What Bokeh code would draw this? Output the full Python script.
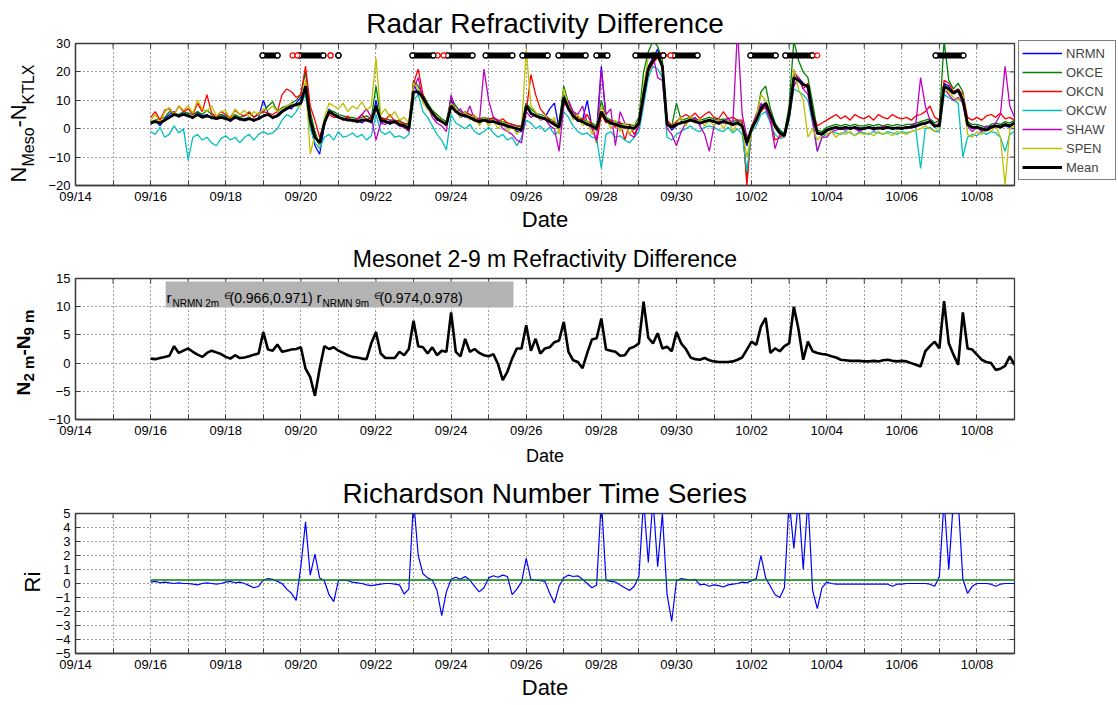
import numpy as np
from bokeh.plotting import figure
from bokeh.layouts import column, row
from bokeh.models import (Range1d, FixedTicker, Label, Legend, LegendItem,
                          BoxAnnotation, ColumnDataSource, Title)
from bokeh.embed import file_html
from bokeh.resources import INLINE

FONT = "Liberation Sans"
N = float("nan")

# ---------------- axes / ticks ----------------
DATE_TICKS = ["09/14", "09/16", "09/18", "09/20", "09/22", "09/24", "09/26",
              "09/28", "09/30", "10/02", "10/04", "10/06", "10/08"]
X_START, X_END = 0, 25          # days since 09/14 00:00
FIRST_DAY = 2                   # data starts 09/16
SAMPLES_PER_DAY = 8             # 3-hourly readings

# ---------------- Radar refractivity difference (N_Meso - N_KTLX) ----------------
NRMN = [1.5, 3.0, 1.0, 3.5, 5.0, 6.0, 4.0, 5.5,
        5.0, 3.5, 6.0, 4.5, 5.0, 3.5, 4.0, 5.0,
        4.0, 2.5, 4.5, 3.0, 3.5, 4.0, 2.5, 4.0,
        10.0, 5.5, 3.5, 5.0, 6.5, 7.5, 7.0, 9.0,
        11.0, 14.0, 2.0, -6.0, -9.0, 1.0, 7.0, 5.0,
        4.5, 3.0, 3.5, 2.5, 3.0, 2.0, 3.5, 2.0,
        10.0, 2.0, 3.0, 1.5, 3.0, 1.0, 1.5, 0.0,
        16.0, 12.0, 12.0, 7.0, 6.0, 3.0, 3.0, 1.0,
        10.0, 6.5, 4.0, 5.0, 3.5, 3.5, 2.0, 3.5,
        2.0, 3.0, 1.5, 2.0, 0.5, 1.0, -1.0, -1.0,
        9.0, 5.0, 5.0, 3.5, 4.0, 7.0, 9.0, 0.0,
        12.0, 6.5, 5.0, 2.5, 3.0, 10.0, 0.5, -0.5,
        22.0, 3.5, 1.5, 2.0, 0.5, 1.0, 0.0, 0.5,
        2.0, 13.0, 22.0, 25.0, 28.0, 21.0, 2.0, -0.5,
        1.0, 2.5, 2.0, 3.5, 3.0, 1.5, 3.0, 2.5,
        3.0, 1.5, 3.0, 2.5, 1.0, 2.5, 0.5, -6.0,
        0.5, 2.5, 8.0, 8.5, 5.5, 0.5, -1.0, -2.0,
        6.0, 19.0, 18.0, 16.0, 14.0, 6.0, -2.0, -1.5,
        -1.0, 0.5, 0.0, 0.5, 0.0, 0.5, 0.0, -0.5,
        0.5, 0.0, 0.5, 0.0, 0.5, 0.0, 0.5, 0.0,
        0.5, 0.0, 1.0, 0.5, 2.0, 1.5, 3.0, 0.5,
        1.5, 16.0, 15.0, 13.0, 14.0, 11.0, 2.0, 0.0,
        1.0, -0.5, 0.0, 1.0, 0.5, 1.5, 1.0, 0.5,
        2.5]
OKCE = [2.5, 3.0, 3.5, 4.0, 6.0, 5.5, 5.0, 6.0,
        5.5, 5.0, 6.0, 5.0, 6.5, 5.0, 4.0, 5.0,
        4.5, 3.5, 5.0, 4.0, 4.5, 5.5, 4.0, 5.0,
        6.0, 8.0, 9.5, 6.0, 7.5, 8.0, 9.0, 10.0,
        12.0, 20.0, 6.0, -1.0, -6.0, 3.0, 6.5, 6.0,
        5.0, 4.5, 4.0, 4.0, 3.5, 4.0, 4.5, 3.5,
        15.0, 4.0, 3.5, 3.0, 3.0, 2.5, 2.0, 1.0,
        17.0, 15.0, 12.0, 9.0, 6.5, 5.0, 3.5, 2.5,
        11.0, 8.0, 6.0, 5.5, 5.0, 4.0, 3.5, 4.0,
        3.5, 3.5, 3.0, 2.5, 2.0, 1.5, 1.0, 0.5,
        9.0, 7.0, 5.5, 5.0, 4.5, 3.5, 2.5, 1.5,
        15.0, 9.0, 6.0, 4.0, 3.5, 2.5, 2.0, 1.0,
        10.0, 4.0, 3.0, 2.5, 2.0, 1.5, 1.5, 1.0,
        4.0, 20.0, 27.0, 31.0, 29.0, 24.0, 2.5, 1.0,
        9.0, 3.0, 3.5, 4.0, 3.5, 3.0, 3.5, 4.0,
        3.5, 3.0, 3.5, 3.0, 2.5, 3.0, 2.0, -18.0,
        1.0, 4.0, 13.0, 15.0, 7.0, 2.0, -0.5, -1.5,
        8.0, 31.0, 24.0, 20.0, 18.0, 9.0, -0.5, -1.0,
        0.5, 1.0, 1.5, 1.0, 1.5, 1.0, 1.5, 1.0,
        1.0, 1.5, 1.0, 1.5, 1.0, 1.5, 1.0, 1.5,
        1.0, 1.5, 1.5, 2.0, 2.5, 3.0, 3.5, 2.0,
        3.0, 31.0, 17.0, 14.0, 16.0, 13.0, 2.5, 1.5,
        1.5, 1.0, 0.5, 1.5, 2.0, 1.5, 2.5, 2.0,
        3.0]
OKCN = [4.0, 6.0, 3.0, 6.5, 7.0, 5.0, 8.0, 6.0,
        7.0, 5.0, 9.0, 6.0, 12.0, 5.5, 4.0, 6.0,
        5.0, 4.0, 6.5, 5.0, 4.5, 6.0, 4.0, 5.5,
        6.0, 5.5, 5.0, 6.0, 12.0, 14.0, 13.0, 11.0,
        12.0, 22.0, 8.0, 3.0, -3.0, 2.0, 5.0, 4.0,
        4.0, 3.0, 4.5, 2.5, 3.5, 5.0, 3.0, 4.0,
        7.0, 4.0, 3.0, 5.0, 2.5, 3.0, 1.5, 2.0,
        16.0, 21.0, 12.0, 8.0, 6.0, 4.0, 3.0, 1.0,
        8.0, 7.0, 5.0, 6.0, 5.0, 4.5, 3.0, 3.5,
        3.0, 4.0, 2.5, 3.5, 2.0, 1.5, 1.0, 1.0,
        6.0, 19.0, 12.0, 7.0, 5.0, 3.0, 2.0, 0.5,
        9.0, 8.0, 5.0, 4.0, 3.0, 5.0, 1.5, -5.0,
        5.0, 2.0, 3.0, 0.5, 2.5, -4.0, 1.5, -2.0,
        1.0, 10.0, 20.0, 23.0, 25.0, 22.0, 3.0, 1.0,
        2.5, 4.0, 5.0, 4.0, 5.5, 3.5, 5.0, 6.0,
        4.0, 3.5, 6.0, 3.5, 4.0, 3.0, 3.0, -20.0,
        0.5, 5.0, 6.0, 8.0, 4.0, -4.0, -3.0, -2.0,
        5.0, 20.0, 18.0, 14.0, 16.0, 5.0, 1.0, 2.0,
        3.0, 4.0, 5.0, 3.5, 4.5, 3.0, 5.0, 4.0,
        3.5, 4.5, 3.0, 5.0, 4.0, 3.5, 5.0, 4.0,
        3.5, 4.0, 3.0, 4.5, 5.0, 6.0, 8.0, 4.0,
        3.0, 17.0, 16.0, 13.0, 14.0, 12.0, 4.0, 3.0,
        4.0, 3.0, 4.5, 5.0, 4.0, 5.5, 3.5, 4.0,
        3.0]
OKCW = [-1.0, -2.0, 0.5, -3.0, -2.0, 1.0, -1.5, 0.0,
        -11.0, -3.0, -2.0, -4.0, -3.0, -5.0, -6.0, -3.5,
        -2.5, -4.0, -3.0, -5.0, -3.0, -2.0, -4.0, -2.0,
        -1.0, -2.0, -1.5, 0.0, 3.0, 5.0, 4.0, 6.0,
        9.0, 12.0, 0.0, -5.0, -7.0, -3.0, -2.0, -4.0,
        -1.0, -3.0, -2.5, -1.5, -3.0, -2.0, -4.0, -2.5,
        5.0, -1.0, -2.0, -1.0, -3.0, -2.5, -3.5, -2.0,
        10.0, 12.0, 6.0, 4.0, 1.0, -2.0, -4.0, -7.5,
        5.0, 2.0, 1.0, 0.0, 1.5, -1.0, -2.0, -1.0,
        0.5, -1.5, -3.0, -2.0, -4.0, -3.0, -6.0, -3.0,
        3.0, 2.0, 0.0, 1.0, -1.0, 0.5, -2.0, -1.0,
        6.0, 4.0, 1.0, -1.0, -2.0, -1.5, -3.0, -3.5,
        -14.0, -2.0, -1.0, -3.0, -2.5, -4.0, -5.0, -3.0,
        -1.0, 8.0, 18.0, 22.0, 21.0, 18.0, -3.0, -4.0,
        -2.0, -1.0, 0.0, 1.0, -0.5, -1.0, 0.5, 1.0,
        0.5, -0.5, -1.0, 0.5, -1.5, 0.0, -2.0, -15.0,
        -1.0, 1.0, 5.0, 6.0, 2.0, -2.0, -3.5, -3.0,
        3.0, 14.0, 13.0, 12.0, 10.0, 2.0, -8.0, -3.0,
        -2.0, -1.0, -1.5, -2.0, -1.0, -1.5, -2.5, -1.0,
        -1.5, -2.0, -1.0, -1.5, -2.0, -1.0, -1.5, -2.0,
        -1.0, -1.5, -1.0, -0.5, -14.0, 0.0, 0.5, -1.0,
        -1.0, 12.0, 11.0, 10.0, 9.0, -10.0, -3.0, -2.0,
        -2.5, -1.0, -2.0, -1.0, -1.5, -3.0, -8.0, -2.0,
        -1.0]
SHAW = [N, N, N, N, N, N, N, N,
        N, N, N, N, N, N, N, N,
        N, N, N, N, N, N, N, N,
        N, N, N, N, N, N, N, N,
        N, N, N, N, N, N, N, N,
        N, N, N, N, 3.0, 5.0, 7.0, 4.0,
        -4.0, 2.0, 1.5, 3.0, 2.0, 1.0, 0.5, -1.0,
        14.0, 18.0, 10.0, 8.0, 4.0, 2.0, 1.0, -1.0,
        12.0, 6.0, 7.0, 4.0, 8.0, 3.0, 2.0, 21.0,
        10.0, 4.0, 3.0, 0.0, -1.0, -2.0, -4.0, -5.0,
        6.0, 4.0, 5.0, 3.0, 3.5, 1.0, 0.0, -8.0,
        8.0, 10.0, 6.0, 5.0, 8.0, 2.0, 0.0, -4.0,
        21.0, 5.0, 7.0, -6.0, 6.0, 2.0, -2.0, -3.0,
        1.0, 10.0, 20.0, 26.0, 18.0, 17.0, 0.0, -2.0,
        -6.0, -1.0, 2.0, 3.0, 4.0, 1.0, -2.0, -8.0,
        1.0, 3.0, 2.0, 4.0, 1.0, 35.0, 5.0, -3.0,
        -1.0, 5.0, 9.0, 7.0, 3.0, -7.0, -2.0, -3.0,
        4.0, 15.0, 18.0, 14.0, 12.0, 3.0, -8.0, -3.0,
        -3.0, -1.0, -0.5, 0.0, -0.5, 0.5, 0.0, -1.0,
        0.0, 0.5, -0.5, 0.0, 1.0, 0.5, 0.0, 0.5,
        0.5, 0.0, 1.0, 2.0, 18.0, 8.0, 3.0, 1.0,
        2.0, 14.0, 12.0, 10.0, 11.0, 9.0, 1.0, -1.0,
        0.5, -1.0, 1.0, 0.0, 2.0, 5.0, 22.0, 8.0,
        4.0]
SPEN = [3.0, 5.0, 2.0, 6.0, 7.5, 5.0, 8.0, 6.5,
        8.0, 5.5, 10.0, 7.0, 6.0, 8.0, 4.5, 6.0,
        6.5, 3.0, 7.0, 5.0, 6.5, 4.0, 6.0, 5.0,
        7.0, 6.5, 8.0, 6.0, 7.0, 8.0, 9.0, 8.0,
        8.0, 17.0, -9.0, -2.0, -6.0, 4.0, 9.0, 8.0,
        7.0, 9.0, 6.0, 8.0, 7.0, 9.5, 6.5, 8.0,
        25.0, 5.0, 7.0, 4.0, 6.0, 3.0, 4.0, 2.0,
        16.0, 14.0, 9.0, 7.0, 5.0, 4.0, 3.0, 2.0,
        9.0, 7.0, 4.0, 6.0, 3.0, 5.0, 1.0, 4.0,
        1.0, 3.0, 0.0, 2.5, -1.0, 1.0, -2.0, 0.0,
        28.0, 8.0, 6.0, 3.0, 5.0, 2.0, 4.0, -2.0,
        14.0, 8.0, 3.0, 5.0, 1.0, 3.0, -2.0, 1.0,
        8.0, 4.0, 0.0, 3.0, -1.0, 2.0, -2.0, 1.0,
        3.0, 15.0, 25.0, 27.0, 26.0, 21.0, 2.0, 0.0,
        2.0, 4.0, 1.0, 4.5, 2.0, 3.5, 1.0, 3.0,
        1.0, 3.0, 0.0, 3.0, -1.0, 2.0, 0.0, -10.0,
        -1.0, 4.0, 12.0, 10.0, 6.0, 0.0, -2.0, -3.0,
        4.0, 21.0, 14.0, 10.0, -3.0, 0.0, -4.0, -2.0,
        -2.0, -1.0, -3.0, -1.5, -2.0, -1.0, -2.5, -1.5,
        -2.0, -1.5, -2.5, -1.0, -2.0, -1.5, -2.5, -1.0,
        -1.5, -2.0, -1.0, -0.5, 0.0, 1.0, 0.0, -1.0,
        0.0, 14.0, 13.0, 11.0, 10.0, 12.0, -2.0, -3.0,
        -1.0, -2.0, 0.0, -1.0, 1.0, -3.0, -20.0, 0.0,
        1.0]
MEAN = [2.0, 2.5, 2.0, 3.0, 4.0, 5.0, 4.5, 5.0,
        4.5, 4.0, 5.0, 4.0, 4.5, 4.0, 3.5, 4.0,
        3.5, 3.0, 4.0, 3.5, 3.0, 3.5, 3.0, 3.5,
        4.5, 5.0, 4.0, 4.5, 6.0, 7.0, 8.0, 8.5,
        9.0, 15.0, 3.0, -3.0, -5.0, 2.0, 6.0, 5.0,
        4.0, 3.5, 3.0, 3.0, 2.5, 3.0, 3.0, 2.5,
        8.0, 3.0, 2.5, 2.0, 2.5, 1.5, 1.0, 0.0,
        13.0, 13.0, 11.0, 8.0, 5.5, 3.5, 2.5, 1.5,
        8.0, 6.0, 5.0, 4.5, 4.0, 3.0, 2.5, 3.0,
        2.5, 2.5, 2.0, 1.5, 1.0, 0.5, 0.0, -0.5,
        8.0, 5.5, 4.5, 4.0, 3.5, 2.5, 1.5, 0.5,
        11.0, 7.0, 4.5, 3.0, 2.5, 1.5, 1.0, 0.0,
        6.0, 3.0, 2.0, 1.5, 1.0, 0.5, 0.5, 0.0,
        2.0, 12.0, 21.0, 24.0, 26.0, 22.0, 1.5, 0.5,
        1.5, 2.0, 2.5, 3.0, 2.5, 2.0, 2.5, 3.0,
        2.5, 2.0, 2.5, 2.0, 1.5, 2.0, 1.0, -5.0,
        0.0, 3.0, 7.0, 9.0, 5.0, 1.0, -1.5, -2.5,
        5.0, 18.0, 17.0, 15.5, 15.0, 5.0, -1.5, -2.0,
        -0.5, 0.0, 0.5, 0.0, 0.5, 0.0, 0.5, 0.0,
        0.0, 0.5, 0.0, 0.3, 0.0, 0.5, 0.0, 0.3,
        0.0, 0.5, 0.5, 1.0, 1.5, 2.0, 2.5, 1.0,
        1.0, 15.0, 14.0, 12.5, 13.5, 10.0, 1.5, 0.5,
        0.5, 0.0, -0.5, 0.5, 1.0, 0.5, 1.5, 1.0,
        2.0]
STATIONS = ["NRMN", "OKCE", "OKCN", "OKCW", "SHAW", "SPEN"]
STATION_DATA = [NRMN, OKCE, OKCN, OKCW, SHAW, SPEN]
STATION_COLORS = ["#0000ff", "#008000", "#ff0000", "#00bfbf", "#bf00bf", "#bfbf00"]

# flag markers along the top of panel 1
FLAG_LEVEL = 25.8
FLAG_START = [4.98, 5.78, 5.96, 6.79, 7.00, 8.97, 9.64, 9.90, 10.92, 11.90,
              12.86, 13.87, 14.91, 15.65, 15.92, 17.97, 18.90, 19.62, 22.90]
FLAG_END = [5.38, 5.91, 6.60, 6.79, 7.00, 9.53, 9.80, 10.57, 11.63, 12.57,
            13.58, 14.16, 15.65, 15.84, 16.56, 18.64, 19.62, 19.75, 23.64]
FLAG_COLOR = ["black", "red", "black", "red", "black", "black", "red", "black",
              "black", "black", "black", "black", "black", "red", "black",
              "black", "black", "red", "black"]

# ---------------- Mesonet 2-9 m difference ----------------
N2_N9 = [0.8, 0.7, 0.9, 1.1, 1.3, 3.0, 1.8, 2.2,
         2.6, 2.0, 1.5, 1.1, 1.8, 2.2, 1.9, 1.6,
         1.1, 0.8, 1.4, 0.9, 1.0, 1.2, 1.5, 1.7,
         5.5, 2.4, 2.2, 3.3, 2.0, 2.2, 2.4, 2.5,
         2.8, -1.0, -2.5, -5.8, -1.0, 3.0, 2.5, 2.8,
         2.2, 1.8, 1.4, 1.1, 1.0, 0.8, 0.7, 3.5,
         5.5, 1.7, 0.9, 0.9, 0.9, 2.0, 1.4, 2.5,
         7.5, 3.0, 2.8, 1.7, 2.8, 1.4, 2.2, 2.0,
         9.0, 2.0, 1.2, 4.3, 2.0, 2.5, 1.8, 1.4,
         1.2, 1.6, -0.2, -3.0, -1.5, 0.8, 2.6, 2.6,
         6.7, 2.2, 4.3, 1.7, 2.6, 2.8, 3.7, 4.0,
         7.3, 2.0, 0.5, 0.2, -0.9, 1.8, 4.2, 4.4,
         7.9, 2.4, 2.2, 2.0, 1.3, 1.4, 2.6, 2.9,
         3.5, 10.9, 4.5, 3.5, 5.3, 2.6, 2.9, 2.1,
         5.5, 3.5, 2.5, 1.0, 0.7, 0.6, 0.9, 0.5,
         0.3, 0.2, 0.2, 0.2, 0.3, 0.6, 1.0, 2.4,
         3.8, 3.2, 6.5, 8.0, 1.8, 2.6, 2.1, 3.0,
         3.5, 10.0, 6.0, 0.6, 3.8, 2.1, 1.8, 1.6,
         1.5, 1.2, 1.0, 0.6, 0.5, 0.4, 0.4, 0.4,
         0.3, 0.3, 0.4, 0.3, 0.5, 0.6, 0.4, 0.3,
         0.4, 0.3, 0.0, -0.3, -0.6, 2.1, 3.0, 3.8,
         2.6, 11.0, 3.5, 1.5, -0.3, 9.0, 2.6, 2.4,
         1.5, 0.6, 0.2, 0.0, -1.2, -1.0, -0.5, 1.2,
         -0.3]
R_LABEL_2M = "NRMN 2m"
R_CI_2M = "(0.966,0.971)"
R_LABEL_9M = "NRMN 9m"
R_CI_9M = "(0.974,0.978)"

# ---------------- Richardson number ----------------
RI = [0.10, 0.15, 0.05, 0.10, 0.05, 0.00, 0.05, 0.00,
      0.00, -0.05, -0.10, 0.00, 0.05, 0.00, -0.05, 0.00,
      0.10, 0.15, 0.05, 0.10, 0.00, -0.15, -0.30, -0.20,
      0.25, 0.35, 0.30, 0.15, 0.00, -0.40, -0.70, -1.20,
      1.20, 4.40, 0.60, 2.10, 0.40, 0.20, -0.80, -1.30,
      0.20, 0.25, 0.20, 0.10, 0.05, 0.00, -0.10, -0.15,
      -0.10, -0.05, 0.00, 0.00, -0.05, -0.10, -0.75, -0.40,
      6.00, 2.00, 0.70, 0.40, 0.25, -0.50, -2.30, -0.60,
      0.30, 0.45, 0.30, 0.50, 0.25, -0.20, -0.60, -0.30,
      0.40, 0.55, 0.45, 0.60, 0.50, -0.80, -0.40, 0.10,
      1.80, 0.30, 0.25, 0.20, 0.15, -0.70, -1.40, -0.20,
      0.40, 0.60, 0.50, 0.55, 0.30, 0.00, -0.30, -0.10,
      6.00, 0.20, 0.15, 0.10, -0.10, -0.30, -0.50, -0.20,
      0.50, 6.00, 1.50, 6.00, 1.20, 5.00, -0.80, -2.70,
      0.20, 0.35, 0.30, 0.25, 0.30, -0.10, -0.05, -0.20,
      -0.10, -0.15, -0.25, -0.10, -0.05, 0.00, 0.10, 0.05,
      0.20, 0.35, 2.00, 0.40, -0.20, -0.80, -1.00, -0.30,
      6.00, 2.50, 6.00, 1.00, 6.00, -0.50, -1.80, -0.30,
      0.10, 0.00, -0.05, -0.05, -0.05, -0.05, -0.05, -0.05,
      -0.05, -0.05, -0.05, -0.05, -0.05, -0.05, -0.20, -0.05,
      -0.05, 0.00, 0.00, 0.00, 0.00, 0.00, -0.05, -0.20,
      0.50, 6.00, 1.00, 6.00, 6.00, 0.30, -0.70, -0.20,
      0.00, 0.00, 0.00, -0.05, -0.20, -0.05, 0.00, 0.00,
      0.00]
RI_CRIT = 0.25


def times(series):
    return [FIRST_DAY + i / SAMPLES_PER_DAY for i in range(len(series))]


DAY_TICKS = list(range(X_START, X_END + 1))
X_LABELS = {d: (DATE_TICKS[d // 2] if d % 2 == 0 and d // 2 < len(DATE_TICKS) else "")
            for d in DAY_TICKS}
BOX = "#3c3c3c"
YLAB_W = 45


def make_fig(fh, ylo, yhi, yticks, bottom_border, title, tsize, toffset, tstand):
    p = figure(frame_width=939, frame_height=fh, min_border_left=75 - YLAB_W,
               min_border_right=104, min_border_top=43,
               min_border_bottom=bottom_border,
               x_range=Range1d(X_START, X_END), y_range=Range1d(ylo, yhi),
               output_backend="svg", toolbar_location=None, title=None)
    p.background_fill_color = "white"
    p.border_fill_color = "white"
    p.outline_line_color = BOX
    p.outline_line_width = 1.3
    xt = FixedTicker(ticks=DAY_TICKS)
    yt = FixedTicker(ticks=yticks)
    p.xaxis.ticker = xt
    p.yaxis.ticker = yt
    p.xgrid.ticker = xt
    p.ygrid.ticker = yt
    p.xaxis.major_label_overrides = X_LABELS
    for ax in (p.xaxis[0], p.yaxis[0]):
        ax.major_tick_in = 5
        ax.major_tick_out = 0
        ax.minor_tick_line_color = None
        ax.axis_line_color = BOX
        ax.axis_line_width = 1.3
        ax.major_tick_line_color = BOX
        ax.major_label_text_font = FONT
        ax.major_label_text_font_size = "13px"
        ax.major_label_text_color = "black"
    p.xaxis.major_label_standoff = 3
    p.yaxis.major_label_standoff = 5
    for g in (p.xgrid, p.ygrid):
        g.grid_line_color = "black"
        g.grid_line_dash = "1 3"
        g.grid_line_alpha = 0.75
        g.grid_line_width = 1
    # inward ticks on the top and right edges of the box
    p.ray(x=DAY_TICKS, y=[yhi] * len(DAY_TICKS), length=5, length_units="screen",
          angle=-np.pi / 2, line_color=BOX, line_width=1)
    p.ray(x=[X_END] * len(yticks), y=yticks, length=5, length_units="screen",
          angle=np.pi, line_color=BOX, line_width=1)
    p.add_layout(Title(text=title, align="center", text_font=FONT,
                       text_font_size=f"{tsize}px", text_font_style="normal",
                       text_color="black", offset=toffset, standoff=tstand), "above")
    return p


def ylab_fig(height):
    f = figure(width=YLAB_W, height=height, min_border=0, x_axis_type=None,
               y_axis_type=None, x_range=Range1d(0, 1), y_range=Range1d(0, 1),
               output_backend="svg", toolbar_location=None, title=None)
    f.outline_line_color = None
    f.background_fill_color = "white"
    f.border_fill_color = "white"
    return f


def lab(p, text, x, y, size, angle=0.0, align="left", bold=False):
    p.add_layout(Label(x=x, y=y, x_units="screen", y_units="screen", text=text,
                       angle=angle, text_font=FONT, text_font_size=f"{size}px",
                       text_align=align, text_baseline="alphabetic",
                       text_color="black",
                       text_font_style="bold" if bold else "normal"))


UP = np.pi / 2

# ---------------- Panel 1 ----------------
p1 = make_fig(142, -20, 30, [-20, -10, 0, 10, 20, 30], 50,
              "Radar Refractivity Difference", 28, -4, 10)
items = []
for name, data, color in zip(STATIONS, STATION_DATA, STATION_COLORS):
    r = p1.line(times(data), np.array(data, dtype=float), line_color=color, line_width=1.3)
    items.append(LegendItem(label=name, renderers=[r]))
rm = p1.line(times(MEAN), MEAN, line_color="black", line_width=2.8)
items.append(LegendItem(label="Mean", renderers=[rm]))

fsrc = ColumnDataSource(dict(x0=FLAG_START, x1=FLAG_END, c=FLAG_COLOR,
                             y=[FLAG_LEVEL] * len(FLAG_START),
                             w=[6 if c == "black" else 2 for c in FLAG_COLOR]))
p1.segment(x0="x0", y0="y", x1="x1", y1="y", line_color="c", line_width="w",
           line_cap="round", source=fsrc)
p1.scatter("x0", "y", size=5, fill_color="white", line_color="c", line_width=1.2, source=fsrc)
p1.scatter("x1", "y", size=5, fill_color="white", line_color="c", line_width=1.2, source=fsrc)

legend = Legend(items=items, location=(4, 5), border_line_color="black",
                border_line_width=1, background_fill_color="white",
                background_fill_alpha=1.0, label_text_font=FONT,
                label_text_font_size="13px", glyph_width=40, glyph_height=18,
                label_height=18, label_width=46, label_standoff=4, spacing=1,
                padding=3, margin=0)
p1.add_layout(legend, "right")
p1.xaxis.axis_label = "Date"

# y-axis label figures share the frame alignment of their row's plot
y1 = ylab_fig(235)
lab(y1, "N", 18, 3, 22, angle=UP)
lab(y1, "Meso", 28, 19, 16, angle=UP)
lab(y1, "-N", 18, 58, 22, angle=UP)
lab(y1, "KTLX", 28, 81, 16, angle=UP)

# ---------------- Panel 2 ----------------
p2 = make_fig(141, -10, 15, [-10, -5, 0, 5, 10, 15], 51,
              "Mesonet 2-9 m Refractivity Difference", 23, 3, 14)
p2.line(times(N2_N9), N2_N9, line_color="black", line_width=2.6)
p2.add_layout(BoxAnnotation(left=2.4, right=11.66, bottom=9.86, top=14.47,
                            fill_color="#b3b3b3", fill_alpha=1.0, line_color=None))
lab(p2, "r", 91, 122, 15)
lab(p2, R_LABEL_2M, 97, 116, 10)
lab(p2, "\u2208", 148, 124, 9)
lab(p2, R_CI_2M, 154, 122, 14)
lab(p2, "r", 241, 122, 15)
lab(p2, R_LABEL_9M, 247, 116, 10)
lab(p2, "\u2208", 298, 124, 9)
lab(p2, R_CI_9M, 304, 122, 14)
p2.xaxis.axis_label = "Date"

y2 = ylab_fig(235)
lab(y2, "N", 23, 24, 19, angle=UP, bold=True)
lab(y2, "2 m", 28, 38, 15, angle=UP, bold=True)
lab(y2, "-N", 23, 64, 19, angle=UP, bold=True)
lab(y2, "9 m", 28, 84, 15, angle=UP, bold=True)

# ---------------- Panel 3 ----------------
p3 = make_fig(140, -5, 5, list(range(-5, 6)), 52,
              "Richardson Number Time Series", 28, -5, 10)
p3.line(times(RI), RI, line_color="#0000ff", line_width=1.2)
rt = times(RI)
p3.line([rt[0], rt[-1]], [RI_CRIT, RI_CRIT], line_color="#008000", line_width=1.6)
p3.xaxis.axis_label = "Date"

y3 = ylab_fig(235)
lab(y3, "Ri", 32, 61, 22, angle=UP)

for p, sz, st in ((p1, 22, 0), (p2, 18, 5), (p3, 22, 0)):
    p.xaxis.axis_label_text_font = FONT
    p.xaxis.axis_label_text_font_size = f"{sz}px"
    p.xaxis.axis_label_text_font_style = "normal"
    p.xaxis.axis_label_text_color = "black"
    p.xaxis.axis_label_standoff = st

layout = column(row(y1, p1, spacing=0), row(y2, p2, spacing=0),
                row(y3, p3, spacing=0), spacing=0)
open("out.html", "w").write(file_html(layout, INLINE))
